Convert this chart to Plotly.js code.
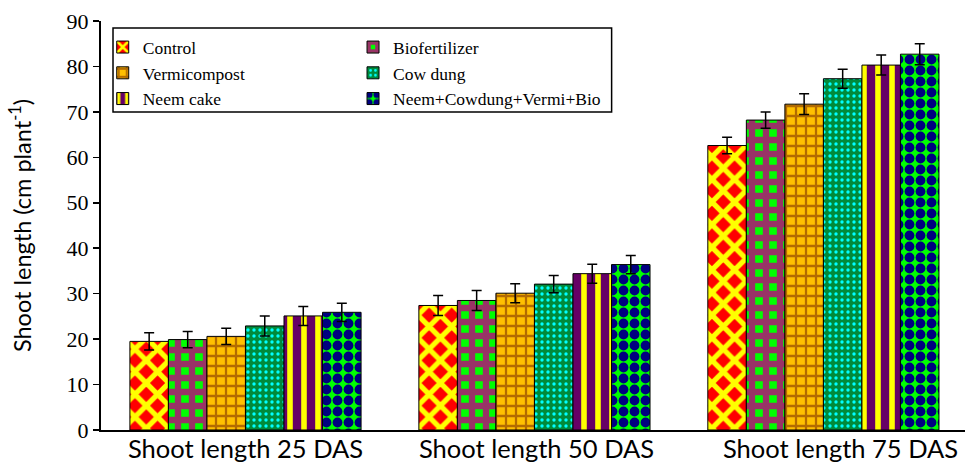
<!DOCTYPE html>
<html>
<head>
<meta charset="utf-8">
<script src="https://cdn.plot.ly/plotly-3.0.1.min.js"></script>
<style>html,body{margin:0;padding:0;background:#fff;}#chart{width:965px;height:462px;}</style>
</head>
<body>
<div id="chart"></div>
<script>
// ---- data ----
const categories = ["Shoot length 25 DAS", "Shoot length 50 DAS", "Shoot length 75 DAS"];
const seriesNames = ["Control", "Biofertilizer", "Vermicompost", "Cow dung", "Neem cake", "Neem+Cowdung+Vermi+Bio"];
const control      = [19.5, 27.4, 62.6];
const biofertilizer= [19.9, 28.5, 68.2];
const vermicompost = [20.6, 30.1, 71.7];
const cowDung      = [22.9, 32.1, 77.3];
const neemCake     = [25.1, 34.4, 80.3];
const combined     = [25.9, 36.4, 82.7];
const errControl = [1.9, 2.2, 1.8];
const errBio     = [1.8, 2.2, 1.8];
const errVermi   = [1.8, 2.1, 2.3];
const errCow     = [2.2, 1.9, 2.1];
const errNeem    = [2.1, 2.1, 2.2];
const errComb    = [2.0, 2.0, 2.3];
const yTicks = [0, 10, 20, 30, 40, 50, 60, 70, 80, 90];

const values = [control, biofertilizer, vermicompost, cowDung, neemCake, combined];
const errors = [errControl, errBio, errVermi, errCow, errNeem, errComb];
const patterns = [
  {shape: "x", bgcolor: "#FF0000", fgcolor: "#FFFF00", size: 16, solidity: 0.55},
  {shape: "+", bgcolor: "#00FF00", fgcolor: "#993366", size: 14, solidity: 0.7},
  {shape: "+", bgcolor: "#FFC000", fgcolor: "#B36B00", size: 10, solidity: 0.4},
  {shape: ".", bgcolor: "#008A3A", fgcolor: "#00FFFF", size: 6, solidity: 0.25},
  {shape: "|", bgcolor: "#660066", fgcolor: "#FFFF00", size: 14, solidity: 0.4},
  {shape: ".", bgcolor: "#00FF00", fgcolor: "#000080", size: 11, solidity: 0.62}
];
const legendOf = ["legend", "legend2", "legend", "legend2", "legend", "legend2"];

const traces = seriesNames.map((name, i) => ({
  type: "bar",
  name: name,
  x: categories,
  y: values[i],
  legend: legendOf[i],
  marker: {
    color: patterns[i].bgcolor,
    line: {color: "#000", width: 1},
    pattern: Object.assign({fillmode: "replace"}, patterns[i])
  },
  error_y: {type: "data", array: errors[i], visible: true, color: "#000", thickness: 1.5, width: 5}
}));

// category labels drawn as annotations so their vertical place matches the reference
const labelShift = [0, 2, 17];
const catLabels = categories.map((c, i) => ({
  xref: "x", yref: "paper", x: c, y: 0, yanchor: "top", xanchor: "center",
  yshift: -1, xshift: labelShift[i], showarrow: false, text: c,
  font: {family: "Lato, Carlito, sans-serif", size: 25.5, color: "#000"}
}));

const legendFont = {family: "Liberation Serif, Times New Roman, serif", size: 17.5, color: "#000"};
const layout = {
  width: 965, height: 462,
  margin: {l: 101, r: 0, t: 21, b: 32, pad: 0},
  paper_bgcolor: "#fff", plot_bgcolor: "#fff",
  barmode: "group", bargap: 0.2, bargroupgap: 0,
  showlegend: true,
  legend: {x: 0.002, y: 0.98, xanchor: "left", yanchor: "top", bgcolor: "rgba(0,0,0,0)", borderwidth: 0, font: legendFont, traceorder: "normal", itemclick: false},
  legend2: {x: 0.2917, y: 0.98, xanchor: "left", yanchor: "top", bgcolor: "rgba(0,0,0,0)", borderwidth: 0, font: legendFont, traceorder: "normal", itemclick: false},
  xaxis: {
    type: "category", range: [-0.5, 2.49],
    showline: true, linecolor: "#000", linewidth: 2,
    ticks: "", showgrid: false, zeroline: false, showticklabels: false
  },
  yaxis: {
    range: [0, 90], tickvals: yTicks, ticktext: yTicks.map(String),
    showline: true, linecolor: "#000", linewidth: 2,
    ticks: "outside", ticklen: 6, tickwidth: 1.5, tickcolor: "#000",
    showgrid: false, zeroline: false,
    tickfont: {family: "Liberation Serif, Times New Roman, serif", size: 22, color: "#000"},
    title: {text: "Shoot length (cm plant<sup>-1</sup>)", font: {family: "Lato, sans-serif", size: 23.5, color: "#000"}, standoff: 28}
  },
  annotations: catLabels,
  shapes: [{type: "rect", xref: "paper", yref: "paper", x0: 0.0139, x1: 0.591, y0: 0.7775, y1: 0.983, line: {color: "#000", width: 1.5}, fillcolor: "rgba(0,0,0,0)"}]
};

Plotly.newPlot("chart", traces, layout, {displayModeBar: false, staticPlot: true});
</script>
</body>
</html>
